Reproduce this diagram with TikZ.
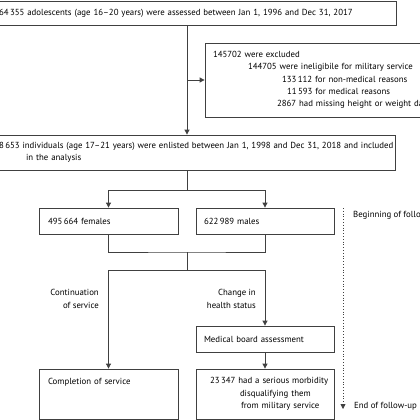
\documentclass[tikz,border=0pt]{standalone}
\usepackage{fontspec}
\setmainfont{PT Sans}
\usetikzlibrary{arrows.meta,positioning}

\begin{document}
\begin{tikzpicture}[x=1pt, y=-1pt,
    >={Triangle[width=5pt,length=5pt]},
    every node/.style={font=\fontsize{8.8}{12.3}\selectfont},
    box/.style={draw=black!75, line width=0.8pt, rectangle, align=left, inner ysep=0pt},
    lbl/.style={align=right, inner sep=0pt},
    link/.style={draw=black!75, line width=0.8pt}]
    \useasboundingbox (0,0) rectangle (420,420);
    \clip (0,0) rectangle (420,420);

    \node[box, minimum height=24, text width=376, inner xsep=21] (assess) at (187,13) {64\,355 adolescents (age 16--20 years) were assessed between Jan 1, 1996 and Dec 31, 2017};
    \node[box, minimum height=74, text width=260, inner xsep=8] (excl) at (343,80) {145702 were excluded\\
        \hspace*{35pt}144705 were ineligibile for military service\\
        \hspace*{69pt}133\,112 for non-medical reasons\\
        \hspace*{74pt}11\,593 for medical reasons\\
        \hspace*{64pt}2867 had missing height or weight data*};
    \node[box, minimum height=35, text width=376, inner xsep=20] (enlisted) at (187,152.5) {\mbox{8\,653 individuals (age 17--21 years) were enlisted between Jan 1, 1998 and Dec 31, 2018 and included}\\
        \hspace*{27pt}in the analysis};

    \node[box, minimum height=26, text width=121, inner xsep=9] (females) at (108.5,221) {495\,664 females};
    \node[box, minimum height=26, text width=122, inner xsep=8] (males) at (265,221) {622\,989 males};
    \node[box, minimum height=26, text width=122, inner xsep=8] (medical) at (265,339) {Medical board assessment};
    \node[box, minimum height=50, text width=121, inner xsep=9] (completion) at (108.5,394) {Completion of service\\\mbox{}\\\mbox{}};
    \node[box, minimum height=50, text width=134, inner xsep=2] (morbidity) at (265,394) {\mbox{\hspace*{12pt}23\,347 had a serious morbidity}\\
        \hspace*{42pt}disqualifying them\\
        \hspace*{43pt}from military service};

    \node[lbl, anchor=east] (contlbl) at (99,299) {Continuation\\of service};
    \node[lbl, anchor=east] (chglbl) at (256,299) {Change in\\health status};

    \coordinate (split) at (187,190);
    \coordinate (join) at (187,252);
    \coordinate (fork) at (187,270);
    \coordinate (fubegin) at (343,208);
    \coordinate (fuend) at (343,409);

    \draw[link,->] (assess) -- (enlisted);
    \draw[link,->] (assess.south |- excl.west) -- (excl);
    \draw[link] (enlisted) -- (split);
    \draw[link,->] (split) -| (females);
    \draw[link,->] (split) -| (males);
    \draw[link] (females) |- (join) -| (males);
    \draw[link] (join) -- (fork);
    \draw[link,->] (fork) -| (completion);
    \draw[link,->] (fork) -| (medical);
    \draw[link,->] (medical) -- (morbidity);

    \draw[link, dotted, ->] (fubegin) -- (fuend);
    \node[anchor=west, inner sep=0pt] (begfu) at (353,215) {Beginning of follow-up};
    \node[anchor=west, inner sep=0pt] (endfu) at (354,406) {End of follow-up};
\end{tikzpicture}
\end{document}
